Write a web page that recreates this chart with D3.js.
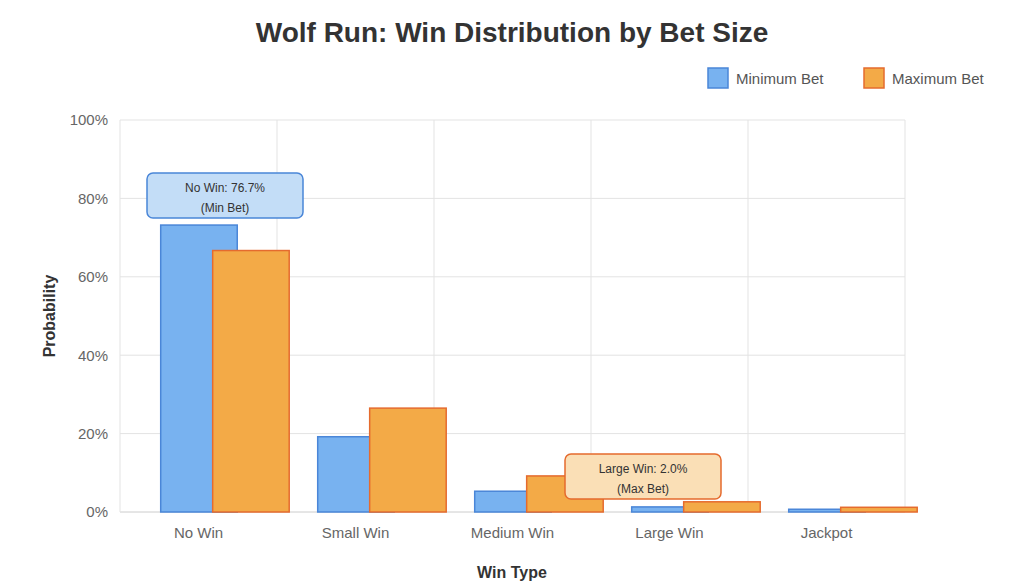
<!DOCTYPE html><html><head><meta charset="utf-8"><script src="https://cdn.jsdelivr.net/npm/d3@7"></script>
<style>body{margin:0;background:#fff;font-family:Helvetica,Arial,"Liberation Sans",sans-serif}</style></head><body><svg id="c" width="1024" height="587"></svg>
<script>
const categories=["No Win","Small Win","Medium Win","Large Win","Jackpot"];
const minBet=[73.2,19.2,5.3,1.3,0.7];
const maxBet=[66.7,26.5,9.2,2.6,1.2];
const yTicks=[0,20,40,60,80,100];
const svg=d3.select("#c");
const L=120,R=905,T=120,B=512;
const x=d3.scaleBand().domain(categories).range([L,R]);
const y=d3.scaleLinear().domain([0,100]).range([B,T]);
const g=svg.append("g");
yTicks.forEach(t=>g.append("line").attr("x1",L).attr("x2",R).attr("y1",y(t)).attr("y2",y(t)).attr("stroke",t==0?"#ccc":"#e3e3e3"));
d3.range(6).forEach(i=>{const xx=L+i*x.bandwidth();g.append("line").attr("x1",xx).attr("x2",xx).attr("y1",T).attr("y2",B).attr("stroke","#e3e3e3");});
const bw=x.bandwidth()*0.497;
const series=[{v:minBet,f:"#78b2f0",s:"#4a86d8",o:0.503},{v:maxBet,f:"#f3aa47",s:"#e56b2e",o:0.834}];
series.forEach(sr=>{
 g.selectAll(null).data(categories).enter().append("rect")
 .attr("x",(d)=>x(d)+x.bandwidth()*sr.o-bw/2+0.75).attr("width",bw-1.5)
 .attr("y",(d,i)=>y(sr.v[i])).attr("height",(d,i)=>B-y(sr.v[i]))
 .attr("fill",sr.f).attr("stroke",sr.s).attr("stroke-width",1.5);
});
const ya=svg.append("g").attr("transform",`translate(${L},0)`).call(d3.axisLeft(y).tickValues(yTicks).tickFormat(d=>d+"%").tickSize(0).tickPadding(12));
ya.select(".domain").remove();ya.selectAll("text").attr("font-size",15).attr("fill","#666");
const xa=svg.append("g").attr("transform",`translate(0,${B})`).call(d3.axisBottom(x).tickSize(0).tickPadding(15));
xa.select(".domain").remove();xa.selectAll("text").attr("font-size",15).attr("fill","#666").attr("font-family","Helvetica,Arial,sans-serif");
svg.append("text").attr("x",512).attr("y",42).attr("text-anchor","middle").attr("font-size",28).attr("font-weight","bold").attr("fill","#333").text("Wolf Run: Win Distribution by Bet Size");
svg.append("text").attr("x",512).attr("y",578).attr("text-anchor","middle").attr("font-size",16).attr("font-weight","bold").attr("fill","#333").text("Win Type");
svg.append("text").attr("transform","translate(55,316) rotate(-90)").attr("text-anchor","middle").attr("font-size",16).attr("font-weight","bold").attr("fill","#333").text("Probability");
[["Minimum Bet",708,series[0]],["Maximum Bet",864,series[1]]].forEach(([t,lx,sr])=>{
 svg.append("rect").attr("x",lx).attr("y",68).attr("width",20).attr("height",20).attr("fill",sr.f).attr("stroke",sr.s).attr("stroke-width",1.5);
 svg.append("text").attr("x",lx+28).attr("y",84).attr("font-size",15).attr("fill","#555").text(t);
});
function note(cx,top,l1,l2,f,s){
 svg.append("rect").attr("x",cx-78).attr("y",top).attr("width",156).attr("height",45).attr("rx",6).attr("fill",f).attr("stroke",s).attr("stroke-width",1.5);
 svg.append("text").attr("x",cx).attr("y",top+19).attr("text-anchor","middle").attr("font-size",12).attr("fill","#333").text(l1);
 svg.append("text").attr("x",cx).attr("y",top+39).attr("text-anchor","middle").attr("font-size",12).attr("fill","#333").text(l2);
}
note(225,173,"No Win: 76.7%","(Min Bet)","#c3ddf7","#4a86d8");
note(643,454,"Large Win: 2.0%","(Max Bet)","#fadfb6","#e56b2e");
</script></body></html>
